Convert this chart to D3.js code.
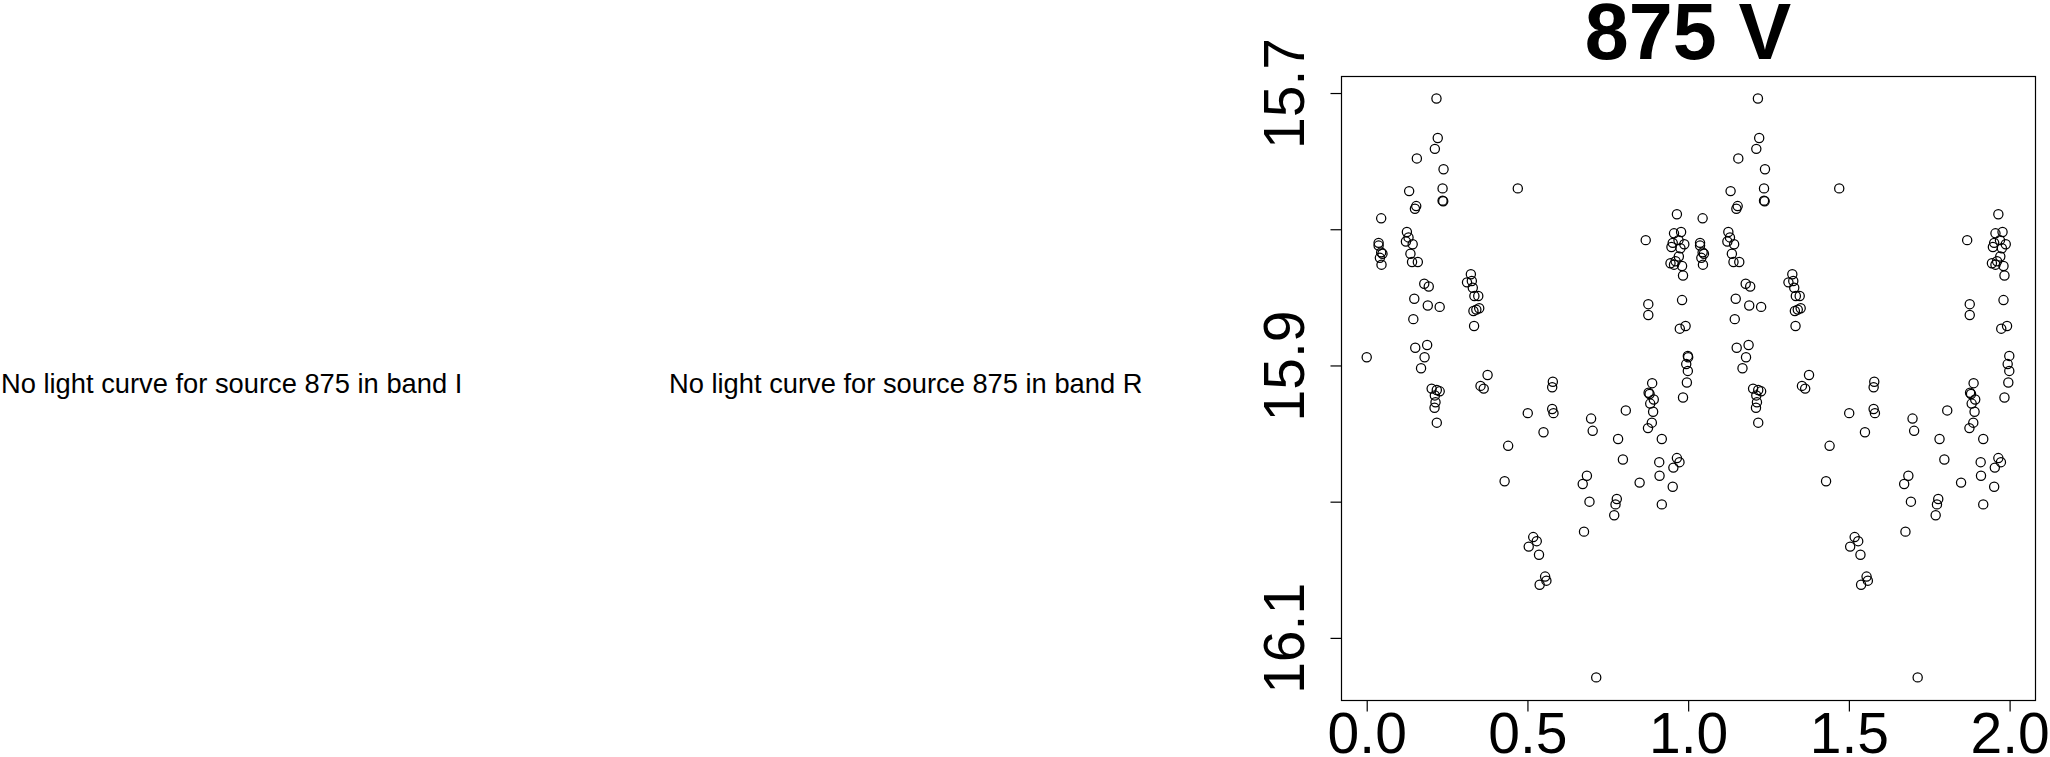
<!DOCTYPE html>
<html>
<head>
<meta charset="utf-8">
<script src="https://cdn.jsdelivr.net/npm/d3@7"></script>
<style>
  body { margin: 0; background: #fff; }
  svg text { font-family: "Liberation Sans", Arial, Helvetica, sans-serif; }
</style>
</head>
<body>
<div id="chartbox"></div>
<script>
// phase-folded light curve, phase in [0,1)
var phase = [
  0.000,
  0.045, 0.037, 0.037, 0.045, 0.049, 0.041, 0.046,
  0.217, 0.221, 0.212, 0.156, 0.239, 0.132, 0.236, 0.236, 0.238, 0.154,
  0.150, 0.125, 0.130, 0.122, 0.143, 0.136, 0.141, 0.159, 0.179, 0.193,
  0.148, 0.190, 0.227, 0.145, 0.151, 0.188, 0.180, 0.169, 0.202, 0.218,
  0.227, 0.212, 0.214, 0.211, 0.218,
  0.324, 0.312, 0.327, 0.330, 0.347, 0.335, 0.350, 0.341, 0.332, 0.334, 0.376, 0.354, 0.364,
  0.470, 0.440, 0.429,
  0.501, 0.579, 0.577, 0.577, 0.581, 0.550, 0.518, 0.529, 0.504, 0.536, 0.555, 0.559, 0.538,
  0.698, 0.703, 0.685, 0.672, 0.693, 0.676, 0.714,
  0.806, 0.782, 0.797, 0.778, 0.774, 0.770,
  0.849, 0.868, 0.876, 0.876, 0.888, 0.877, 0.880, 0.893, 0.882, 0.891,
  0.887, 0.875, 0.918, 0.910, 0.911, 0.918,
  0.965, 0.956, 0.978, 0.952, 0.970, 0.948, 0.988, 0.976, 0.971, 0.945,
  0.961, 0.956, 0.981, 0.984, 0.981, 0.992, 0.974, 0.999, 0.994, 0.999,
  0.996, 0.984, 0.965, 0.973, 0.954, 0.952
];
var mag = [
  15.894,
  15.792, 15.810, 15.812, 15.817, 15.818, 15.821, 15.826,
  15.704, 15.733, 15.741, 15.748, 15.756, 15.772, 15.770, 15.779, 15.7795, 15.783,
  15.785, 15.802, 15.806, 15.809, 15.811, 15.818, 15.824, 15.824, 15.840, 15.842,
  15.851, 15.856, 15.857, 15.866, 15.887, 15.885, 15.894, 15.902, 15.917, 15.918,
  15.919, 15.922, 15.927, 15.931, 15.942,
  15.833, 15.839, 15.838, 15.843, 15.849, 15.849, 15.858, 15.859, 15.860, 15.871, 15.907, 15.915, 15.917,
  15.770, 15.959, 15.985,
  15.935, 15.912, 15.916, 15.932, 15.935, 15.949, 16.026, 16.029, 16.033, 16.039, 16.055, 16.058, 16.061,
  15.939, 15.948, 15.981, 15.987, 16.000, 16.022, 16.129,
  15.933, 15.954, 15.969, 15.998, 16.002, 16.010,
  15.986, 15.808, 15.855, 15.863, 15.913, 15.920, 15.921, 15.925, 15.928, 15.934,
  15.942, 15.946, 15.954, 15.971, 15.981, 16.002,
  15.789, 15.803, 15.802, 15.810, 15.808, 15.813, 15.811, 15.814, 15.820, 15.825,
  15.8235, 15.826, 15.827, 15.834, 15.852, 15.871, 15.873, 15.893, 15.899, 15.904,
  15.9125, 15.9235, 15.968, 15.971, 15.975, 15.989
];
var cycles = [0, 1];   // each point is drawn at phase and phase + 1
var xTicks = [0, 0.5, 1, 1.5, 2];
var xLabels = ['0.0', '0.5', '1.0', '1.5', '2.0'];
var yTicks = [15.7, 15.8, 15.9, 16.0, 16.1];
var yLabels = ['15.7', '', '15.9', '', '16.1'];
var title = '875 V';
var missing = ['No light curve for source 875 in band I', 'No light curve for source 875 in band R'];

var points = [];
cycles.forEach(function (c) {
  phase.forEach(function (p, i) { points.push({ x: p + c, y: mag[i] }); });
});

var svg = d3.select('#chartbox').append('svg')
    .attr('width', 2050)
    .attr('height', 757);

// empty panels
svg.selectAll('text.missing')
    .data(missing)
    .enter().append('text')
    .attr('class', 'missing')
    .attr('x', (d, i) => [1, 669][i])
    .attr('y', 393)
    .style('font-size', '27.3px')
    .text(d => d);

var box = { left: 1341, right: 2035, top: 76, bottom: 700 };
var x = d3.scaleLinear().domain([-0.08, 2.079]).range([box.left, box.right]);
var y = d3.scaleLinear().domain([15.6875, 16.1456]).range([box.top, box.bottom]);

svg.append('rect')
    .attr('x', box.left + 0.5)
    .attr('y', box.top + 0.5)
    .attr('width', box.right - box.left)
    .attr('height', box.bottom - box.top)
    .style('fill', 'none')
    .style('stroke', '#000')
    .style('stroke-width', 1.2);

var xAxis = svg.append('g')
    .attr('transform', 'translate(0,' + (box.bottom + 0.5) + ')')
    .call(d3.axisBottom(x).tickValues(xTicks).tickSize(11).tickSizeOuter(0)
      .tickFormat((d, i) => xLabels[i]));
xAxis.select('.domain').remove();
xAxis.selectAll('text')
    .attr('y', 12)
    .attr('dy', '0.71em')
    .style('font-size', '57px')
    .style('font-family', '"Liberation Sans", Arial, sans-serif');

var yAxis = svg.append('g')
    .attr('transform', 'translate(' + (box.left + 0.5) + ',0)')
    .call(d3.axisLeft(y).tickValues(yTicks).tickSize(11).tickSizeOuter(0)
      .tickFormat((d, i) => yLabels[i]));
yAxis.select('.domain').remove();
yAxis.selectAll('text')
    .attr('x', null)
    .attr('dy', null)
    .attr('text-anchor', 'middle')
    .attr('transform', 'translate(-38,0) rotate(-90)')
    .style('font-size', '57px')
    .style('font-family', '"Liberation Sans", Arial, sans-serif');
svg.selectAll('.tick line').style('stroke', '#000').style('stroke-width', 1.2);

svg.append('text')
    .attr('x', (box.left + box.right) / 2)
    .attr('y', 59)
    .attr('text-anchor', 'middle')
    .style('font-size', '79px')
    .style('font-weight', 'bold')
    .text(title);

svg.append('g').selectAll('circle')
    .data(points)
    .enter().append('circle')
    .attr('cx', d => x(d.x))
    .attr('cy', d => y(d.y))
    .attr('r', 4.6)
    .style('fill', 'none')
    .style('stroke', '#000')
    .style('stroke-width', 1.25);
</script>
</body>
</html>
